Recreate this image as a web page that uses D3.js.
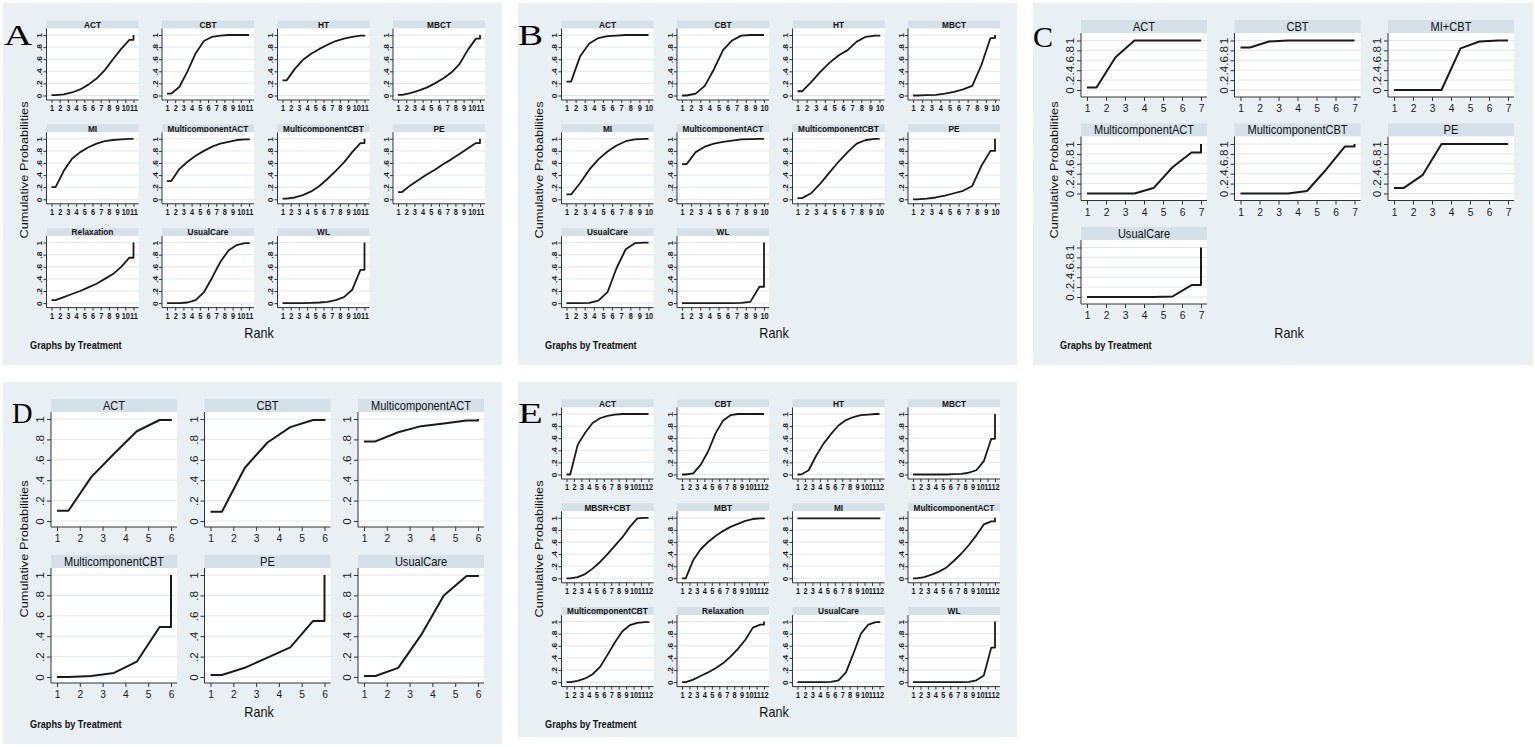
<!DOCTYPE html>
<html>
<head>
<meta charset="utf-8">
<script src="https://cdn.jsdelivr.net/npm/d3@7"></script>
<style>
  body { margin: 0; background: #fff; }
  svg { display: block; }
</style>
</head>
<body>
<svg id="chart" width="1535" height="747"></svg>
<script>
// cumulative ranking probabilities, one array per treatment (rank 1 .. n)
var yTicks = [0, 0.2, 0.4, 0.6, 0.8, 1];
var yTickLabels = ['0', '.2', '.4', '.6', '.8', '1'];

var ranksA = [1, 2, 3, 4, 5, 6, 7, 8, 9, 10, 11];
var treatmentsA = ['ACT', 'CBT', 'HT', 'MBCT', 'MI', 'MulticomponentACT', 'MulticomponentCBT', 'PE', 'Relaxation', 'UsualCare', 'WL'];
var cumProbA = [
  [0.005, 0.02, 0.05, 0.1, 0.18, 0.28, 0.42, 0.6, 0.77, 0.92, 1],
  [0.03, 0.14, 0.4, 0.7, 0.9, 0.97, 0.99, 1, 1, 1, 1],
  [0.25, 0.44, 0.59, 0.69, 0.77, 0.84, 0.9, 0.94, 0.97, 0.99, 1],
  [0.01, 0.04, 0.08, 0.13, 0.2, 0.28, 0.38, 0.52, 0.75, 0.94, 1],
  [0.2, 0.47, 0.67, 0.78, 0.86, 0.92, 0.96, 0.98, 0.99, 1, 1],
  [0.3, 0.5, 0.62, 0.72, 0.8, 0.87, 0.92, 0.95, 0.98, 0.99, 1],
  [0.01, 0.03, 0.07, 0.13, 0.22, 0.34, 0.47, 0.61, 0.78, 0.93, 1],
  [0.12, 0.23, 0.32, 0.41, 0.49, 0.58, 0.66, 0.75, 0.84, 0.93, 1],
  [0.05, 0.1, 0.15, 0.2, 0.26, 0.32, 0.4, 0.48, 0.6, 0.75, 1],
  [0, 0, 0.01, 0.05, 0.18, 0.42, 0.68, 0.87, 0.96, 0.99, 1],
  [0, 0, 0, 0.005, 0.01, 0.02, 0.05, 0.1, 0.22, 0.55, 1]
];

var ranksB = [1, 2, 3, 4, 5, 6, 7, 8, 9, 10];
var treatmentsB = ['ACT', 'CBT', 'HT', 'MBCT', 'MI', 'MulticomponentACT', 'MulticomponentCBT', 'PE', 'UsualCare', 'WL'];
var cumProbB = [
  [0.23, 0.65, 0.86, 0.95, 0.98, 0.99, 1, 1, 1, 1],
  [0, 0.03, 0.16, 0.43, 0.75, 0.91, 0.99, 1, 1, 1],
  [0.07, 0.22, 0.39, 0.54, 0.66, 0.75, 0.89, 0.97, 0.99, 1],
  [0, 0.005, 0.01, 0.03, 0.06, 0.1, 0.16, 0.5, 0.95, 1],
  [0.08, 0.27, 0.49, 0.66, 0.79, 0.89, 0.96, 0.99, 1, 1],
  [0.58, 0.78, 0.87, 0.92, 0.95, 0.97, 0.99, 0.995, 1, 1],
  [0.02, 0.1, 0.26, 0.44, 0.62, 0.78, 0.92, 0.98, 1, 1],
  [0, 0.01, 0.03, 0.06, 0.1, 0.14, 0.22, 0.55, 0.8, 1],
  [0, 0, 0.005, 0.04, 0.18, 0.58, 0.89, 0.99, 1, 1],
  [0, 0, 0, 0, 0, 0, 0.005, 0.02, 0.27, 1]
];

var ranksC = [1, 2, 3, 4, 5, 6, 7];
var treatmentsC = ['ACT', 'CBT', 'MI+CBT', 'MulticomponentACT', 'MulticomponentCBT', 'PE', 'UsualCare'];
var cumProbC = [
  [0.05, 0.66, 1, 1, 1, 1, 1],
  [0.86, 0.98, 1, 1, 1, 1, 1],
  [0, 0, 0, 0.84, 0.98, 1, 1],
  [0, 0, 0, 0.11, 0.53, 0.83, 1],
  [0, 0, 0, 0.05, 0.48, 0.95, 1],
  [0.11, 0.37, 1, 1, 1, 1, 1],
  [0, 0, 0, 0, 0.01, 0.24, 1]
];

var ranksD = [1, 2, 3, 4, 5, 6];
var treatmentsD = ['ACT', 'CBT', 'MulticomponentACT', 'MulticomponentCBT', 'PE', 'UsualCare'];
var cumProbD = [
  [0.1, 0.43, 0.66, 0.88, 0.99, 1],
  [0.09, 0.52, 0.77, 0.92, 0.99, 1],
  [0.78, 0.87, 0.93, 0.955, 0.985, 1],
  [0, 0.01, 0.04, 0.15, 0.49, 1],
  [0.02, 0.09, 0.19, 0.29, 0.55, 1],
  [0.01, 0.09, 0.41, 0.8, 0.99, 1]
];

var ranksE = [1, 2, 3, 4, 5, 6, 7, 8, 9, 10, 11, 12];
var treatmentsE = ['ACT', 'CBT', 'HT', 'MBCT', 'MBSR+CBT', 'MBT', 'MI', 'MulticomponentACT', 'MulticomponentCBT', 'Relaxation', 'UsualCare', 'WL'];
var cumProbE = [
  [0, 0.49, 0.69, 0.85, 0.93, 0.97, 0.99, 1, 1, 1, 1, 1],
  [0, 0.02, 0.16, 0.38, 0.68, 0.89, 0.98, 1, 1, 1, 1, 1],
  [0, 0.07, 0.31, 0.51, 0.67, 0.81, 0.9, 0.95, 0.98, 0.99, 1, 1],
  [0, 0, 0, 0, 0, 0.005, 0.01, 0.03, 0.07, 0.22, 0.59, 1],
  [0, 0.02, 0.07, 0.16, 0.27, 0.4, 0.54, 0.68, 0.85, 0.99, 1, 1],
  [0, 0.3, 0.48, 0.6, 0.7, 0.78, 0.85, 0.9, 0.95, 0.98, 0.99, 1],
  [0.99, 0.99, 0.99, 0.99, 0.99, 0.99, 0.99, 0.99, 0.99, 0.99, 0.99, 1],
  [0, 0.02, 0.06, 0.11, 0.18, 0.29, 0.41, 0.55, 0.71, 0.89, 0.94, 1],
  [0, 0.02, 0.06, 0.13, 0.25, 0.45, 0.66, 0.84, 0.94, 0.98, 0.99, 1],
  [0, 0.04, 0.1, 0.16, 0.23, 0.31, 0.42, 0.55, 0.7, 0.9, 0.95, 1],
  [0, 0, 0, 0, 0.005, 0.03, 0.16, 0.47, 0.8, 0.95, 0.99, 1],
  [0, 0, 0, 0, 0, 0, 0, 0.005, 0.03, 0.11, 0.57, 1]
];

var FONT = '"Liberation Sans", Arial, sans-serif';
var svg = d3.select('#chart');

// layout of the little graphs (relative to panel corner)
var small = {x0: 43.5, colStep: 115.5, top0: 17.5, rowStep: 103.8, plotW: 92, headH: 8, plotH: 71.5,
  padT: 6.5, padB: 4.5, padX: 5, tick: 3, tickPad: 2, yGap: 1.5, tickFont: 8.4, headFont: 9.4,
  weight: 'bold', k: 0.88, lineW: 1.8};
var bigC = {x0: 48, colStep: 153.5, top0: 17, rowStep: 103.5, plotW: 126, headH: 13, plotH: 64,
  padT: 7.5, padB: 7, padX: 6, tick: 4, tickPad: 3, yGap: 3, tickFont: 11.6, headFont: 12.5,
  weight: 'normal', k: 0.885, lineW: 2};
var bigD = Object.assign({}, bigC, {rowStep: 156, plotH: 115, padT: 7, padB: 6});

function place(sel, x, y, k, rot) {
  sel.attr('x', 0).attr('y', 0).attr('dy', null)
    .attr('transform', 'translate(' + x + ',' + y + ') scale(' + k + ',1)' + (rot ? ' rotate(' + rot + ')' : ''));
  return sel;
}

function drawPanel(p) {
  var s = p.style;
  var g = svg.append('g').attr('transform', 'translate(' + p.x + ',' + p.y + ')');
  g.append('rect').attr('width', p.w).attr('height', p.h).attr('fill', '#e8f0f3');

  var n = p.ranks.length;
  var x = d3.scaleLinear().domain([1, n]).range([s.padX, s.plotW - s.padX]);
  var y = d3.scaleLinear().domain([0, 1]).range([s.plotH - s.padB, s.padT]);
  var line = d3.line().x(function(d) { return x(d[0]); }).y(function(d) { return y(d[1]); });

  p.names.forEach(function(name, i) {
    var cum = p.values[i];
    var col = i % p.cols, row = Math.floor(i / p.cols);
    var cell = g.append('g')
      .attr('transform', 'translate(' + (s.x0 + col * s.colStep) + ',' + (s.top0 + row * s.rowStep) + ')');

    cell.append('rect').attr('width', s.plotW).attr('height', s.headH).attr('fill', '#d5e1e8');
    place(cell.append('text').text(name)
      .attr('text-anchor', 'middle').attr('font-family', FONT)
      .attr('font-size', s.headFont).attr('font-weight', s.weight).attr('fill', '#111'),
      s.plotW / 2, s.headH / 2 + s.headFont * 0.358, s.k);

    var plot = cell.append('g').attr('transform', 'translate(0,' + s.headH + ')');
    plot.append('rect').attr('width', s.plotW).attr('height', s.plotH).attr('fill', '#fff');
    plot.selectAll('line.grid').data(yTicks).enter().append('line')
      .attr('class', 'grid')
      .attr('x1', 0).attr('x2', s.plotW)
      .attr('y1', function(d) { return y(d); }).attr('y2', function(d) { return y(d); })
      .attr('stroke', '#dce5ea').attr('stroke-width', 0.9);

    var ya = plot.append('g').call(d3.axisLeft(y).tickValues(yTicks)
      .tickFormat(function(d, j) { return yTickLabels[j]; }).tickSize(s.tick).tickSizeOuter(0));
    var xa = plot.append('g').attr('transform', 'translate(0,' + s.plotH + ')')
      .call(d3.axisBottom(x).tickValues(p.ranks).tickFormat(d3.format('d')).tickSize(s.tick).tickSizeOuter(0));

    [ya, xa].forEach(function(a) {
      a.select('.domain').remove();
      a.selectAll('line').attr('stroke', '#333');
      a.selectAll('text').attr('font-family', FONT).attr('font-size', s.tickFont)
        .attr('font-weight', s.weight).attr('fill', '#1a1a1a').attr('text-anchor', 'middle');
    });
    ya.selectAll('text').each(function() { place(d3.select(this), -(s.tick + s.yGap), 0, s.k, -90); });
    xa.selectAll('text').each(function() { place(d3.select(this), 0, s.tick + s.tickPad + s.tickFont * 0.716, s.k); });

    plot.append('line').attr('x1', 0).attr('x2', 0).attr('y1', 0).attr('y2', s.plotH)
      .attr('stroke', '#333').attr('stroke-width', 1);
    plot.append('line').attr('x1', 0).attr('x2', s.plotW).attr('y1', s.plotH).attr('y2', s.plotH)
      .attr('stroke', '#333').attr('stroke-width', 1);

    // Stata-style step at both ends: flat from 1 to 1.5, mid-rank points, jump to 1 at rank n
    var pts = [[1, cum[0]], [1.5, cum[0]]];
    for (var r = 2; r < n; r++) pts.push([r + 0.5, cum[r - 1]]);
    pts.push([n, cum[n - 2]], [n, cum[n - 1]]);
    plot.append('path').attr('d', line(pts))
      .attr('fill', 'none').attr('stroke', '#1a1a1a')
      .attr('stroke-width', s.lineW).attr('stroke-linejoin', 'round');
  });

  place(g.append('text').text('Cumulative Probabilities')
    .attr('text-anchor', 'middle').attr('font-family', FONT).attr('font-size', 12.8).attr('fill', '#111'),
    24.5, 167, 0.92, -90);
  place(g.append('text').text('Rank')
    .attr('text-anchor', 'middle').attr('font-family', FONT).attr('font-size', 14).attr('fill', '#111'),
    256, 334.5, 0.9);
  place(g.append('text').text('Graphs by Treatment')
    .attr('font-family', FONT).attr('font-size', 10.2).attr('font-weight', 'bold').attr('fill', '#111'),
    27, 345.5, 0.9);
  place(g.append('text').text(p.letter)
    .attr('font-family', '"Liberation Serif", "Times New Roman", serif').attr('font-size', 30).attr('fill', '#000'),
    p.letterX, p.letterY, p.letterK);
}

drawPanel({letter: 'A', x: 3, y: 3, w: 499, h: 362, cols: 4, style: small,
  ranks: ranksA, names: treatmentsA, values: cumProbA, letterX: 1, letterY: 42, letterK: 1.3});
drawPanel({letter: 'B', x: 518, y: 3, w: 499, h: 362, cols: 4, style: small,
  ranks: ranksB, names: treatmentsB, values: cumProbB, letterX: 0, letterY: 42, letterK: 1.25});
drawPanel({letter: 'C', x: 1033, y: 3, w: 500, h: 362, cols: 3, style: bigC,
  ranks: ranksC, names: treatmentsC, values: cumProbC, letterX: 0, letterY: 44, letterK: 1.0});
drawPanel({letter: 'D', x: 3, y: 382, w: 499, h: 362, cols: 3, style: bigD,
  ranks: ranksD, names: treatmentsD, values: cumProbD, letterX: 9, letterY: 41, letterK: 0.95});
drawPanel({letter: 'E', x: 518, y: 382, w: 499, h: 355, cols: 4, style: small,
  ranks: ranksE, names: treatmentsE, values: cumProbE, letterX: 0, letterY: 41, letterK: 1.35});
</script>
</body>
</html>
